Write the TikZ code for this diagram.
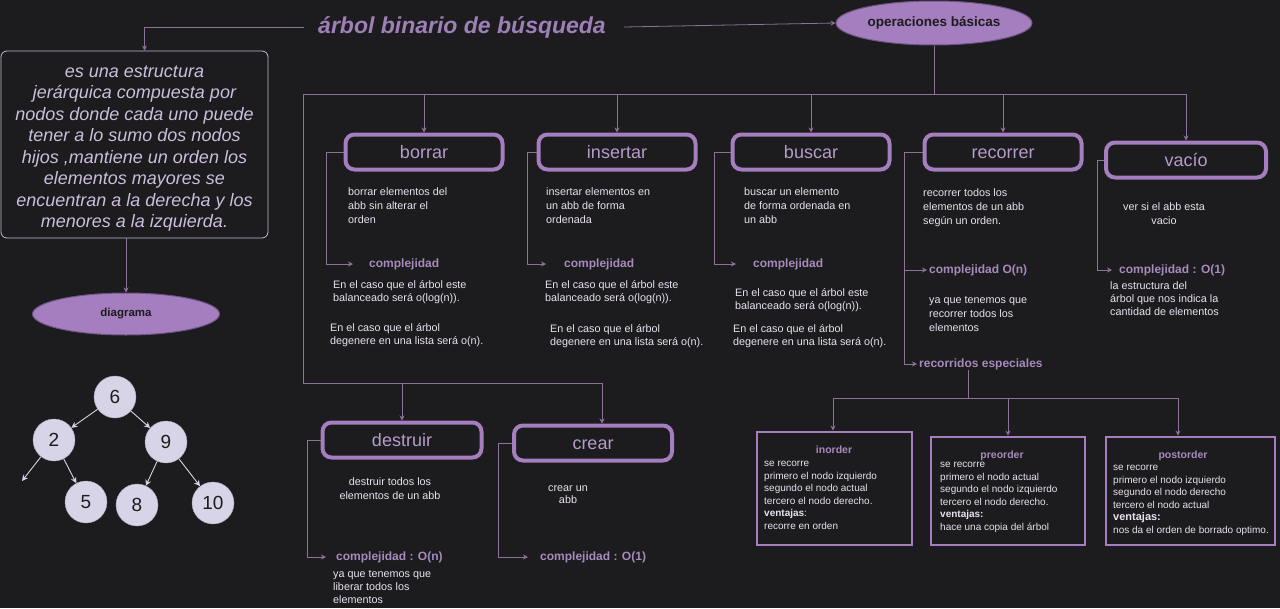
\documentclass[tikz,border=0pt]{standalone}
\usepackage{fontspec}
\setmainfont{Liberation Sans}
\usetikzlibrary{arrows.meta,positioning,calc,shapes.geometric}
\definecolor{Bg}{HTML}{1C1B1D}
\definecolor{Purp}{HTML}{A47EBE}
\definecolor{PurpDk}{HTML}{6E5384}
\definecolor{PurpLt}{HTML}{B59CCB}
\definecolor{PurpT}{HTML}{A68BBC}
\definecolor{Title}{HTML}{9E80B8}
\definecolor{Wire}{HTML}{8C7199}
\definecolor{TxtW}{HTML}{E8E3F0}
\definecolor{DefTxt}{HTML}{CBBFDD}
\definecolor{BoxLine}{HTML}{C4BBD0}
\definecolor{NodeF}{HTML}{D6D4E6}
\definecolor{TreeLn}{HTML}{D8D2E6}
\tikzset{
 opbox/.style={draw=Purp, line width=4pt, rounded corners=9pt, fill=Bg, minimum width=157pt, minimum height=35pt, inner sep=0pt, text height=15pt, text depth=2pt, text=PurpLt, font=\fontsize{18}{20}\selectfont},
 travbox/.style={draw=Purp, line width=2.8pt, fill=Bg, inner sep=0pt},
 oval/.style={ellipse, draw=PurpDk, line width=1pt, fill=Purp, inner sep=0pt, text=Bg, font=\bfseries\fontsize{13.5}{15}\selectfont},
 desc/.style={anchor=north west, align=left, inner sep=0pt, text=TxtW, font=\fontsize{10.8}{14}\selectfont},
 note/.style={desc, font=\fontsize{10.8}{13.2}\selectfont},
 small/.style={desc, font=\fontsize{10}{12.6}\selectfont},
 cplx/.style={anchor=west, inner sep=0pt, text=PurpT, font=\bfseries\fontsize{12}{14}\selectfont},
 travtitle/.style={inner sep=0pt, text=PurpT, font=\bfseries\fontsize{10.5}{12}\selectfont},
 tnode/.style={circle, fill=NodeF, draw=NodeF!80!black, line width=0.4pt, minimum size=42pt, inner sep=0pt, text=Bg, font=\fontsize{19}{20}\selectfont},
 wire/.style={draw=Wire, line width=0.8pt},
 link/.style={wire, -{Stealth[length=5pt,width=5pt]}},
 treelink/.style={draw=TreeLn, line width=0.9pt, -{Stealth[length=6pt,width=6pt]}}
}
\begin{document}
\begin{tikzpicture}[x=1pt,y=-1pt]
\fill[Bg] (0,0) rectangle (1280,608);
\useasboundingbox (0,0) rectangle (1280,608);

% title and definition
\node[inner sep=0pt, text=Title, font=\bfseries\itshape\fontsize{23}{27}\selectfont] (title) at (462,27) {árbol binario de búsqueda};
\node[oval, minimum width=196pt, minimum height=44pt] (ops) at (934,23) {operaciones básicas};
\node[draw=BoxLine, line width=0.8pt, rounded corners=6pt, minimum width=267pt, minimum height=187pt] (defbox) at (134.5,144.5) {};
\node[align=center, inner sep=0pt, text=DefTxt, font=\itshape\fontsize{18}{21.5}\selectfont] (deftext) at (134.5,148.5) {es una estructura\\jerárquica compuesta por\\nodos donde cada uno puede\\tener a lo sumo dos nodos\\hijos ,mantiene un orden los\\elementos mayores se\\encuentran a la derecha y los\\menores a la izquierda.};
\node[oval, minimum width=187pt, minimum height=42pt, font=\bfseries\fontsize{11.5}{13}\selectfont] (diag) at (126,314) {diagrama};
\draw[link] ([xshift=-14pt]title.west) -| ([xshift=10pt]defbox.north);
\draw[link] ([xshift=18pt]title.east) -- (ops.west);
\draw[link] (diag.north |- defbox.south) -- (diag.north);

% tree
\node[tnode] (n6) at (115,397) {6};
\node[tnode] (n2) at (54,440) {2};
\node[tnode] (n9) at (166,442) {9};
\node[tnode] (n5) at (86,502) {5};
\node[tnode] (n8) at (137,505) {8};
\node[tnode] (n10) at (213,503) {10};
\coordinate (nl) at (22,481);
\draw[treelink] (n6) -- (n2);
\draw[treelink] (n6) -- (n9);
\draw[treelink] (n2) -- (nl);
\draw[treelink] (n2) -- (n5);
\draw[treelink] (n9) -- (n8);
\draw[treelink] (n9) -- (n10);

% operations
\node[opbox] (borrar) at (424,152) {borrar};
\node[opbox] (insertar) at (617,152) {insertar};
\node[opbox] (buscar) at (811,152) {buscar};
\node[opbox] (recorrer) at (1003,152) {recorrer};
\node[opbox, minimum width=160pt] (vacio) at (1186,160) {vacío};
\node[opbox, minimum width=159pt] (destruir) at (402,440) {destruir};
\node[opbox, minimum width=158pt] (crear) at (593,443) {crear};

\coordinate (busL) at (303,94);
\coordinate (busR) at (1186,94);
\coordinate (busB) at (303,383);
\coordinate (busBR) at (602,383);
\draw[wire] (ops.south) -- (ops.south |- busL);
\draw[wire] (busL) -- (busR);
\draw[link] (borrar.north |- busL) -- (borrar.north);
\draw[link] (insertar.north |- busL) -- (insertar.north);
\draw[link] (buscar.north |- busL) -- (buscar.north);
\draw[link] (recorrer.north |- busL) -- (recorrer.north);
\draw[link] (busR) -- (vacio.north);
\draw[wire] (busL) -- (busB) -- (busBR);
\draw[link] (destruir.north |- busB) -- (destruir.north);
\draw[link] (busBR) -- (busBR |- crear.north);

% borrar
\node[desc] (db) at (348,187) {borrar elementos del\\abb sin alterar el\\orden};
\node[cplx] (cb) at (369,264) {complejidad};
\node[note] (eb1) at (333,280) {En el caso que el árbol este\\balanceado será o(log(n)).};
\node[note] (eb2) at (330,323) {En el caso que el árbol\\degenere en una lista será o(n).};
\draw[link, shorten >=16pt] (borrar.west) -- ++(-17,0) |- (cb.west);

% insertar
\node[desc] (di) at (546,187) {insertar elementos en\\un abb de forma\\ordenada};
\node[cplx] (ci) at (564,264) {complejidad};
\node[note] (ei1) at (545,280) {En el caso que el árbol este\\balanceado será o(log(n)).};
\node[note] (ei2) at (550,324) {En el caso que el árbol\\degenere en una lista será o(n).};
\draw[link, shorten >=18pt] (insertar.west) -- ++(-9,0) |- (ci.west);

% buscar
\node[desc] (dbu) at (744,187) {buscar un elemento\\de forma ordenada en\\un abb};
\node[cplx] (cbu) at (753,264) {complejidad};
\node[note] (ebu1) at (735,288) {En el caso que el árbol este\\balanceado será o(log(n)).};
\node[note] (ebu2) at (733,324) {En el caso que el árbol\\degenere en una lista será o(n).};
\draw[link, shorten >=17pt] (buscar.west) -- ++(-16,0) |- (cbu.west);

% recorrer
\node[desc] (dr) at (923,188) {recorrer todos los\\elementos de un abb\\según un orden.};
\node[cplx] (cr) at (929,270) {complejidad O(n)};
\node[desc] (yr) at (929,296) {ya que tenemos que\\recorrer todos los\\elementos};
\node[cplx] (re) at (919,364) {recorridos especiales};
\coordinate (rj) at (904,152);
\draw[wire] (recorrer.west) -- (rj);
\draw[link, shorten >=2pt] (rj) |- (cr.west);
\draw[link, shorten >=2pt] (rj) |- (re.west);

% vacio
\node[desc, anchor=north, align=center] (dv) at (1164,202) {ver si el abb esta\\vacio};
\node[cplx] (cv) at (1119,270) {complejidad : O(1)};
\node[note] (lv) at (1110,281) {la estructura del\\árbol que nos indica la\\cantidad de elementos};
\draw[link, shorten >=7pt] (vacio.west) -- ++(-7,0) |- (cv.west);

% destruir
\node[desc, anchor=north, align=center] (dd) at (390,477) {destruir todos los\\elementos de un abb};
\node[cplx] (cd) at (336,557) {complejidad : O(n)};
\node[note] (yd) at (333,570) {ya que tenemos que\\liberar todos los\\elementos};
\draw[link, shorten >=10pt] (destruir.west) -- ++(-13,0) |- (cd.west);

% crear
\node[desc, anchor=north, align=center, font=\fontsize{10.8}{12.5}\selectfont] (dc) at (568,485) {crear un\\abb};
\node[cplx] (cc) at (540,557) {complejidad : O(1)};
\draw[link, shorten >=12pt] (crear.west) -- ++(-14,0) |- (cc.west);

% recorridos especiales
\node[travbox, minimum width=155pt, minimum height=113pt] (inord) at (834.5,488.5) {};
\node[travbox, minimum width=154pt, minimum height=108pt] (preord) at (1008,491) {};
\node[travbox, minimum width=169pt, minimum height=108pt] (postord) at (1190.5,491) {};
\coordinate (rs) at (968,398);
\coordinate (tl) at (833,398);
\coordinate (tr) at (1178,398);
\draw[wire] (re.south -| rs) -- (rs);
\draw[wire] (tl) -- (tr);
\draw[link] (tl) -- (tl |- inord.north);
\draw[link] (preord.north |- tl) -- (preord.north);
\draw[link] (tr) -- (tr |- postord.north);

\node[travtitle] (tin) at (834,450) {inorder};
\node[small] (bin) at (764,461) {se recorre\\primero el nodo izquierdo\\segundo el nodo actual\\tercero el nodo derecho.\\\textbf{ventajas}:\\recorre en orden};
\node[travtitle] (tpre) at (1002,456) {preorder};
\node[small] (bpre) at (940,462) {se recorre\\primero el nodo actual\\segundo el nodo izquierdo\\tercero el nodo derecho.\\\textbf{ventajas:}\\hace una copia del árbol};
\node[travtitle] (tpost) at (1183,456) {postorder};
\node[small] (bpost) at (1113,465) {se recorre\\primero el nodo izquierdo\\segundo el nodo derecho\\tercero el nodo actual\\{\bfseries\fontsize{11}{12}\selectfont ventajas:}\\nos da el orden de borrado optimo.};
\end{tikzpicture}
\end{document}
